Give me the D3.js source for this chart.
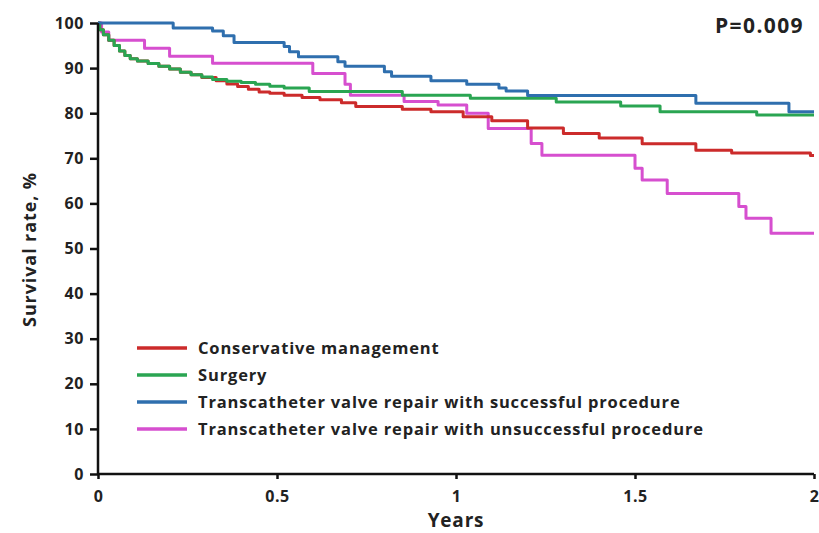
<!DOCTYPE html>
<html>
<head>
<meta charset="utf-8">
<script src="https://cdn.jsdelivr.net/npm/d3@7"></script>
<style>
  html, body { margin: 0; padding: 0; background: #fff; }
  svg { display: block; }
  text { font-family: "Open Sans", "Liberation Sans", Arial, sans-serif; font-weight: 700; fill: #222; }
</style>
</head>
<body>
<svg id="chart" width="819" height="533"></svg>
<script>
// Kaplan-Meier survival estimates: step starts (years) and survival (%)
const conservativeTimes = [0, 0.005, 0.015, 0.03, 0.045, 0.06, 0.075, 0.09, 0.11, 0.14, 0.17, 0.20, 0.23, 0.26, 0.29, 0.33, 0.36, 0.39, 0.42, 0.45, 0.48, 0.52, 0.57, 0.62, 0.68, 0.72, 0.85, 0.93, 1.02, 1.10, 1.20, 1.30, 1.40, 1.52, 1.67, 1.77, 1.99, 2.0];
const conservativeSurv  = [100, 98.5, 97.4, 96.2, 95.0, 93.8, 92.8, 92.1, 91.6, 91.0, 90.4, 89.8, 89.1, 88.5, 87.9, 87.2, 86.5, 85.9, 85.3, 84.7, 84.4, 84.0, 83.5, 83.0, 82.3, 81.5, 80.9, 80.3, 79.2, 78.3, 76.7, 75.5, 74.5, 73.2, 71.8, 71.2, 70.6, 70.6];

const surgeryTimes = [0, 0.005, 0.015, 0.03, 0.045, 0.06, 0.075, 0.09, 0.11, 0.14, 0.17, 0.20, 0.23, 0.26, 0.29, 0.32, 0.36, 0.40, 0.44, 0.48, 0.52, 0.59, 0.85, 1.04, 1.28, 1.46, 1.57, 1.84, 2.0];
const surgerySurv  = [100, 98.5, 97.4, 96.2, 95.0, 93.8, 92.8, 92.1, 91.6, 91.0, 90.4, 89.8, 89.1, 88.5, 88.0, 87.5, 87.1, 86.8, 86.4, 86.0, 85.6, 84.8, 84.0, 83.3, 82.5, 81.6, 80.3, 79.6, 79.6];

const successTimes = [0, 0.21, 0.32, 0.35, 0.38, 0.52, 0.535, 0.56, 0.67, 0.69, 0.80, 0.82, 0.93, 1.03, 1.12, 1.14, 1.20, 1.67, 1.93, 2.0];
const successSurv  = [100, 98.9, 98.2, 97.2, 95.7, 94.8, 93.6, 92.5, 91.4, 90.4, 89.2, 88.2, 87.2, 86.4, 85.6, 84.9, 83.9, 82.2, 80.3, 80.3];

const failureTimes = [0, 0.01, 0.03, 0.13, 0.20, 0.32, 0.60, 0.69, 0.705, 0.855, 0.95, 1.03, 1.09, 1.21, 1.24, 1.50, 1.52, 1.59, 1.79, 1.81, 1.88, 2.0];
const failureSurv  = [100, 98.0, 96.2, 94.4, 92.6, 91.1, 88.8, 86.4, 84.0, 82.6, 81.8, 80.0, 76.6, 73.3, 70.7, 67.8, 65.2, 62.2, 59.3, 56.7, 53.4, 53.4];

const seriesNames = [
  "Conservative management",
  "Surgery",
  "Transcatheter valve repair with successful procedure",
  "Transcatheter valve repair with unsuccessful procedure"
];
const seriesColors = ["#cc2b2b", "#2aa552", "#2f6fae", "#d64fcf"];

const xTicks = [0, 0.5, 1, 1.5, 2];
const xTickLabels = ["0", "0.5", "1", "1.5", "2"];
const yTicks = [0, 10, 20, 30, 40, 50, 60, 70, 80, 90, 100];

const pValueLabel = "P=0.009";
const xTitle = "Years";
const yTitle = "Survival rate, %";

const series = [
  { times: conservativeTimes, surv: conservativeSurv },
  { times: surgeryTimes, surv: surgerySurv },
  { times: successTimes, surv: successSurv },
  { times: failureTimes, surv: failureSurv }
];

const svg = d3.select("#chart");
const x = d3.scaleLinear().domain([0, 2]).range([98, 814]);
const y = d3.scaleLinear().domain([0, 100]).range([474, 23]);

// survival curves as step functions
const line = d3.line()
  .x(d => x(d[0]))
  .y(d => y(d[1]))
  .curve(d3.curveStepAfter);

const drawOrder = [3, 0, 1, 2];
drawOrder.forEach(i => {
  const s = series[i];
  const pts = s.times.map((t, k) => [t, s.surv[k]]);
  svg.append("path")
    .datum(pts)
    .attr("fill", "none")
    .attr("stroke", seriesColors[i])
    .attr("stroke-width", 3)
    .attr("stroke-linejoin", "round")
    .attr("d", line);
});

// axes
const xAxis = d3.axisBottom(x)
  .tickValues(xTicks)
  .tickFormat((d, i) => xTickLabels[i])
  .tickSize(5)
  .tickPadding(12);
const yAxis = d3.axisLeft(y)
  .tickValues(yTicks)
  .tickSize(8)
  .tickPadding(6);

const gx = svg.append("g").attr("transform", `translate(0,${y(0)})`).call(xAxis);
const gy = svg.append("g").attr("transform", `translate(${x(0)},0)`).call(yAxis);

[gx, gy].forEach(g => {
  g.select(".domain").attr("stroke", "#111").attr("stroke-width", 2.5);
  g.selectAll(".tick line").attr("stroke", "#111").attr("stroke-width", 2.5);
  g.selectAll(".tick text")
    .attr("fill", "#222")
    .style("font-family", '"Open Sans", "Liberation Sans", Arial, sans-serif')
    .style("font-weight", 700)
    .style("font-size", "16px")
    .style("letter-spacing", "0.6px");
});
gx.select(".domain").attr("d", `M${x(0)},0H${x(2)}`);
gy.select(".domain").attr("d", `M0,${y(0)}V${y(100)}`);

// axis titles
svg.append("text")
  .attr("x", x(1))
  .attr("y", 527)
  .attr("text-anchor", "middle")
  .style("font-size", "19px")
  .style("letter-spacing", "0.8px")
  .text(xTitle);

svg.append("text")
  .attr("transform", `translate(36,${y(50) + 1}) rotate(-90)`)
  .attr("text-anchor", "middle")
  .style("font-size", "18px")
  .style("letter-spacing", "0.9px")
  .text(yTitle);

// p-value
svg.append("text")
  .attr("x", 804)
  .attr("y", 33)
  .attr("text-anchor", "end")
  .style("font-size", "21px")
  .style("letter-spacing", "1.4px")
  .text(pValueLabel);

// legend
const legendY = [348, 375, 402, 429];
const legend = svg.append("g");
seriesNames.forEach((name, i) => {
  legend.append("line")
    .attr("x1", 137).attr("x2", 187)
    .attr("y1", legendY[i]).attr("y2", legendY[i])
    .attr("stroke", seriesColors[i])
    .attr("stroke-width", 3.5);
  legend.append("text")
    .attr("x", 198)
    .attr("y", legendY[i] + 6)
    .style("font-size", "16.5px")
    .style("letter-spacing", "0.85px")
    .text(name);
});
</script>
</body>
</html>
